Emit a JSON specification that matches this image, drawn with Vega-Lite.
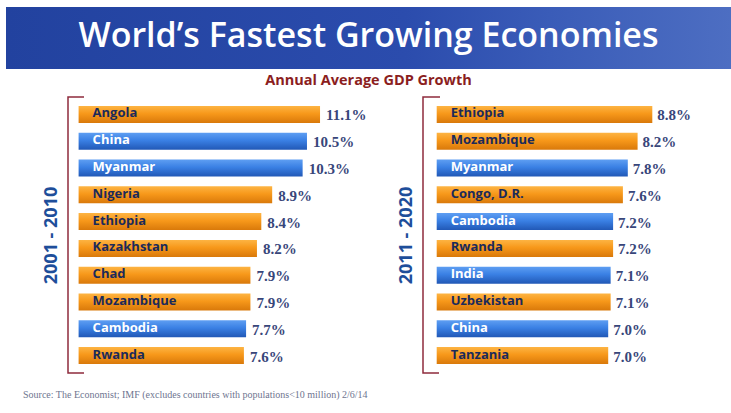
{
  "$schema": "https://vega.github.io/schema/vega-lite/v6.json",
  "padding": {"left": 6, "top": 7, "right": 0, "bottom": 0},
  "background": "white",
  "spacing": 0,
  "bounds": "flush",
  "config": {"view": {"stroke": null}, "font": "Open Sans"},
  "title": {
    "text": "Source: The Economist; IMF (excludes countries with populations<10 million) 2/6/14",
    "orient": "bottom", "anchor": "start", "dx": 17, "offset": 16,
    "font": "Liberation Serif", "fontSize": 10, "fontWeight": "normal", "color": "#6E7590"
  },
  "datasets": {
    "growth": [
      {"period": "2001 - 2010", "country": "Angola", "region": "Other", "pct": 0.111},
      {"period": "2001 - 2010", "country": "China", "region": "Asia", "pct": 0.105},
      {"period": "2001 - 2010", "country": "Myanmar", "region": "Asia", "pct": 0.103},
      {"period": "2001 - 2010", "country": "Nigeria", "region": "Other", "pct": 0.089},
      {"period": "2001 - 2010", "country": "Ethiopia", "region": "Other", "pct": 0.084},
      {"period": "2001 - 2010", "country": "Kazakhstan", "region": "Other", "pct": 0.082},
      {"period": "2001 - 2010", "country": "Chad", "region": "Other", "pct": 0.079},
      {"period": "2001 - 2010", "country": "Mozambique", "region": "Other", "pct": 0.079},
      {"period": "2001 - 2010", "country": "Cambodia", "region": "Asia", "pct": 0.077},
      {"period": "2001 - 2010", "country": "Rwanda", "region": "Other", "pct": 0.076},
      {"period": "2011 - 2020", "country": "Ethiopia", "region": "Other", "pct": 0.088},
      {"period": "2011 - 2020", "country": "Mozambique", "region": "Other", "pct": 0.082},
      {"period": "2011 - 2020", "country": "Myanmar", "region": "Asia", "pct": 0.078},
      {"period": "2011 - 2020", "country": "Congo, D.R.", "region": "Other", "pct": 0.076},
      {"period": "2011 - 2020", "country": "Cambodia", "region": "Asia", "pct": 0.072},
      {"period": "2011 - 2020", "country": "Rwanda", "region": "Other", "pct": 0.072},
      {"period": "2011 - 2020", "country": "India", "region": "Asia", "pct": 0.071},
      {"period": "2011 - 2020", "country": "Uzbekistan", "region": "Other", "pct": 0.071},
      {"period": "2011 - 2020", "country": "China", "region": "Asia", "pct": 0.070},
      {"period": "2011 - 2020", "country": "Tanzania", "region": "Other", "pct": 0.070}
    ]
  },
  "vconcat": [
    {
      "width": 725, "height": 62,
      "data": {"values": [{}]},
      "layer": [
        {
          "mark": {"type": "rect", "color": {"gradient": "linear", "x1": 0, "y1": 0, "x2": 1, "y2": 0,
            "stops": [{"offset": 0, "color": "#22429F"}, {"offset": 0.55, "color": "#2B4CAD"}, {"offset": 0.75, "color": "#3A5CB8"}, {"offset": 1, "color": "#4D6EC2"}]}},
          "encoding": {}
        },
        {
          "mark": {"type": "text", "text": "World’s Fastest Growing Economies", "font": "Open Sans", "fontSize": 34, "fontWeight": 600, "color": "white", "dy": -1},
          "encoding": {}
        }
      ]
    },
    {
      "width": 725, "height": 28,
      "data": {"values": [{}]},
      "mark": {"type": "text", "text": "Annual Average GDP Growth", "font": "Open Sans", "fontSize": 14.5, "fontWeight": "bold", "color": "#8B1E1E", "dy": -2},
      "encoding": {}
    },
    {
      "spacing": 0,
      "bounds": "flush",
      "hconcat": [
        {
          "width": 61.7, "height": 276,
          "data": {"values": []},
          "mark": "point",
          "encoding": {}
        },
        {
          "width": 354.3, "height": 276,
          "data": {"name": "growth"},
          "transform": [{"filter": "datum.period === '2001 - 2010'"}],
          "view": {"stroke": "#8E2B3C", "strokeWidth": 1.5, "strokeDash": [16, 952.6, 292]},
          "encoding": {
            "y": {"field": "country", "type": "nominal", "sort": null,
              "scale": {"paddingInner": 0.366, "paddingOuter": 0.336},
              "axis": {"title": "2001 - 2010", "labels": false, "ticks": false, "domain": false, "grid": false,
                "titlePadding": 8, "titleFont": "Open Sans", "titleFontSize": 18, "titleFontWeight": "bold", "titleColor": "#1E4E9A"}}
          },
          "layer": [
            {
              "mark": {"type": "bar"},
              "encoding": {
                "x": {"field": "pct", "type": "quantitative", "scale": {"domain": [0, 0.15802], "range": [10.6, 354.3], "nice": false}, "axis": null},
                "color": {
                  "condition": {"test": "datum.region === 'Asia'", "value": {"gradient": "linear", "x1": 0, "y1": 0, "x2": 0, "y2": 1, "stops": [{"offset": 0, "color": "#5E9EF2"}, {"offset": 0.45, "color": "#3A80E4"}, {"offset": 1, "color": "#2158B6"}]}},
                  "value": {"gradient": "linear", "x1": 0, "y1": 0, "x2": 0, "y2": 1, "stops": [{"offset": 0, "color": "#FDB443"}, {"offset": 0.45, "color": "#F7981A"}, {"offset": 1, "color": "#D9790A"}]}
                }
              }
            },
            {
              "mark": {"type": "text", "align": "left", "dx": 14, "dy": -1, "font": "Open Sans", "fontWeight": "bold", "fontSize": 13},
              "encoding": {
                "x": {"datum": 0, "type": "quantitative"},
                "text": {"field": "country"},
                "color": {"condition": {"test": "datum.region === 'Asia'", "value": "white"}, "value": "#1B2A5A"}
              }
            },
            {
              "mark": {"type": "text", "align": "left", "dx": 6, "dy": 1, "font": "Liberation Serif", "fontWeight": "bold", "fontSize": 15, "color": "#38467A"},
              "encoding": {
                "x": {"field": "pct", "type": "quantitative"},
                "text": {"field": "pct", "format": ".1%"}
              }
            }
          ]
        },
        {
          "width": 309, "height": 276,
          "data": {"name": "growth"},
          "transform": [{"filter": "datum.period === '2011 - 2020'"}],
          "view": {"stroke": "#8E2B3C", "strokeWidth": 1.5, "strokeDash": [17, 861, 293]},
          "encoding": {
            "y": {"field": "country", "type": "nominal", "sort": null,
              "scale": {"paddingInner": 0.366, "paddingOuter": 0.336},
              "axis": {"title": "2011 - 2020", "labels": false, "ticks": false, "domain": false, "grid": false,
                "titlePadding": 8, "titleFont": "Open Sans", "titleFontSize": 18, "titleFontWeight": "bold", "titleColor": "#1E4E9A"}}
          },
          "layer": [
            {
              "mark": {"type": "bar"},
              "encoding": {
                "x": {"field": "pct", "type": "quantitative", "scale": {"domain": [0, 0.12053], "range": [13.7, 309], "nice": false}, "axis": null},
                "color": {
                  "condition": {"test": "datum.region === 'Asia'", "value": {"gradient": "linear", "x1": 0, "y1": 0, "x2": 0, "y2": 1, "stops": [{"offset": 0, "color": "#5E9EF2"}, {"offset": 0.45, "color": "#3A80E4"}, {"offset": 1, "color": "#2158B6"}]}},
                  "value": {"gradient": "linear", "x1": 0, "y1": 0, "x2": 0, "y2": 1, "stops": [{"offset": 0, "color": "#FDB443"}, {"offset": 0.45, "color": "#F7981A"}, {"offset": 1, "color": "#D9790A"}]}
                }
              }
            },
            {
              "mark": {"type": "text", "align": "left", "dx": 14, "dy": -1, "font": "Open Sans", "fontWeight": "bold", "fontSize": 13},
              "encoding": {
                "x": {"datum": 0, "type": "quantitative"},
                "text": {"field": "country"},
                "color": {"condition": {"test": "datum.region === 'Asia'", "value": "white"}, "value": "#1B2A5A"}
              }
            },
            {
              "mark": {"type": "text", "align": "left", "dx": 5, "dy": 1, "font": "Liberation Serif", "fontWeight": "bold", "fontSize": 15, "color": "#38467A"},
              "encoding": {
                "x": {"field": "pct", "type": "quantitative"},
                "text": {"field": "pct", "format": ".1%"}
              }
            }
          ]
        }
      ]
    }
  ]
}
